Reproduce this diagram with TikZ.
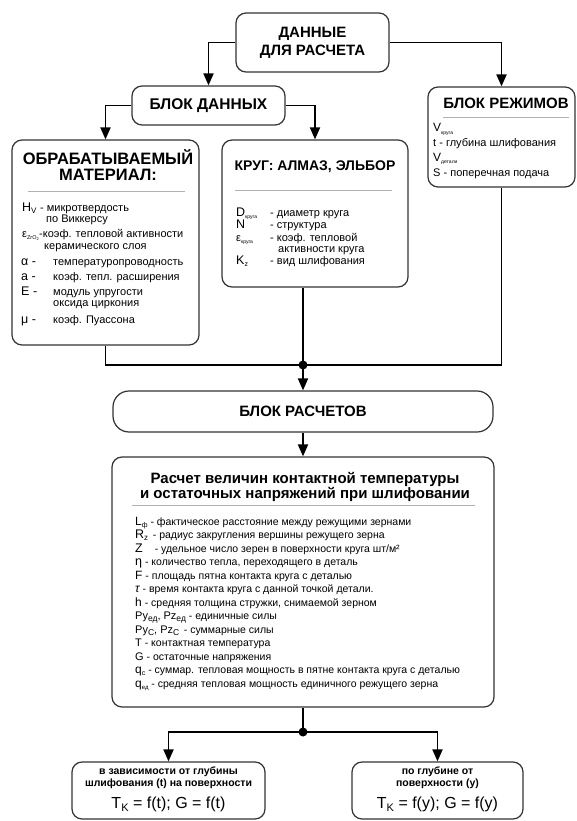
\documentclass[tikz,border=0pt]{standalone}
\usepackage{fontspec}
\setmainfont{Liberation Sans}
\usetikzlibrary{arrows.meta}
\newcommand\fsz[1]{\fontsize{#1}{#1}\selectfont}
\newcommand\sbs[2][6.5]{\raisebox{-0.35ex}{\fontsize{#1}{#1}\selectfont #2}}
\begin{document}
\begin{tikzpicture}[x=1pt,y=-1pt,
 box/.style={draw=black!80, line width=1.2pt, rounded corners=10pt, inner sep=0pt},
 conn/.style={line width=1.9pt, black},
 arr/.style={conn, -{Triangle[length=12pt,width=10pt]}},
 sepl/.style={draw=black!30, line width=1pt},
 jdot/.style={circle, fill=black, inner sep=0pt, minimum size=9pt},
 ttl/.style={font=\bfseries\fontsize{14.5}{18}\selectfont, align=center, inner sep=0pt},
 itm/.style={font=\fsz{11}, anchor=base west, inner sep=0pt},
 symb/.style={font=\fsz{12.5}, anchor=base west, inner sep=0pt},
 citm/.style={font=\fsz{10.5}, anchor=base west, inner sep=0pt},
 btx/.style={font=\bfseries\fontsize{10.5}{12}\selectfont, align=center, inner sep=0pt},
 fml/.style={font=\fsz{16}, inner sep=0pt}]
\useasboundingbox (0,0) rectangle (576,821);
\fill[white] (0,0) rectangle (576,821);

% ---------- boxes ----------
\node[box, minimum width=153, minimum height=59] (top) at (312.5,42.5) {};
\node[ttl, font=\bfseries\fontsize{15}{18}\selectfont] (topt) at (312.5,43) {ДАННЫЕ\\ДЛЯ РАСЧЕТА};

\node[box, minimum width=153, minimum height=39, font=\bfseries\fsz{15.5}] (dan) at (208.5,105.5) {БЛОК ДАННЫХ};

% material
\node[box, minimum width=187, minimum height=205] (mat) at (105.5,242.5) {};
\node[ttl, font=\bfseries\fontsize{16.5}{15.5}\selectfont] (matt) at (108,165) {ОБРАБАТЫВАЕМЫЙ\\МАТЕРИАЛ:};
\draw[sepl] (28,191) -- (185,191);
\node[symb] (m1s) at (22,211) {H\sbs[8]{V}};
\node[itm] (m1) at (40,211) {- микротвердость};
\node[itm] (m1b) at (46,222) {по Виккерсу};
\node[symb, font=\fsz{11}] (m2s) at (22,237) {ε\sbs[5.5]{ZrO\sbs[4]{2}}};
\node[itm] (m2) at (39,237) {-коэф. тепловой активности};
\node[itm] (m2b) at (44,249) {керамического слоя};
\node[symb] (m3s) at (21,265) {α -};
\node[itm] (m3) at (53,265) {температуропроводность};
\node[symb] (m4s) at (21,280) {а -};
\node[itm] (m4) at (53,280) {коэф. тепл. расширения};
\node[symb] (m5s) at (21,295) {Е -};
\node[itm] (m5) at (53,295) {модуль упругости};
\node[itm] (m5b) at (53,306) {оксида циркония};
\node[symb] (m6s) at (21,323) {μ -};
\node[itm] (m6) at (53,323) {коэф. Пуассона};

% krug
\node[box, minimum width=186, minimum height=147] (krug) at (315,213.5) {};
\node[ttl, font=\bfseries\fsz{14}] (krugt) at (315,167) {КРУГ: АЛМАЗ, ЭЛЬБОР};
\draw[sepl] (235,190) -- (392,190);
\node[symb] (k1s) at (236,216) {D\sbs[5]{круга}};
\node[itm] (k1) at (270,216) {- диаметр круга};
\node[symb] (k2s) at (236,228) {N};
\node[itm] (k2) at (270,228) {- структура};
\node[symb, font=\fsz{11}] (k3s) at (236,241) {ε\sbs[5]{круга}};
\node[itm] (k3) at (270,241) {- коэф. тепловой};
\node[itm] (k3b) at (278,252) {активности круга};
\node[symb] (k4s) at (236,264) {K\sbs[7]{z}};
\node[itm] (k4) at (270,264) {- вид шлифования};

% rezhimy
\node[box, minimum width=147, minimum height=100] (rez) at (501.5,137) {};
\node[ttl, font=\bfseries\fsz{15}] (rezt) at (506,103) {БЛОК РЕЖИМОВ};
\draw[sepl] (443,118) -- (569,118);
\node[symb, font=\fsz{12}] (r1) at (433,132) {V\sbs[5]{круга}};
\node[itm] (r2) at (433,147) {t - глубина шлифования};
\node[symb, font=\fsz{12}] (r3) at (433,161) {V\sbs[5]{детали}};
\node[itm] (r4) at (433,176) {S - поперечная подача};

% raschety
\node[box, rounded corners=16pt, minimum width=380, minimum height=41, font=\bfseries\fsz{15}] (ras) at (303,411.5) {БЛОК РАСЧЕТОВ};

% calc block
\node[box, minimum width=382, minimum height=250] (calc) at (303,582) {};
\node[ttl, font=\bfseries\fontsize{15}{15.5}\selectfont] (calct) at (305,487) {Расчет величин контактной температуры\\и остаточных напряжений при шлифовании};
\draw[sepl] (132,505) -- (475,505);
\node[citm] (c1) at (135,525) {{\fsz{12}L\sbs[7]{ф}} - фактическое расстояние между режущими зернами};
\node[citm] (c2) at (135,538.5) {{\fsz{12.5}R\sbs[8]{z}}\, - радиус закругления вершины режущего зерна};
\node[citm] (c3) at (135,552) {{\fsz{12.5}Z}\hspace{9pt} - удельное число зерен в поверхности круга шт/м²};
\node[citm] (c4) at (135,565.5) {{\fsz{12.5}η} - количество тепла, переходящего в деталь};
\node[citm] (c5) at (135,579) {{\fsz{12}F} - площадь пятна контакта круга с деталью};
\node[citm] (c6) at (135,592.5) {{\fsz{12}\itshape τ} - время контакта круга с данной точкой детали.};
\node[citm] (c7) at (135,606) {{\fsz{12}h} - средняя толщина стружки, снимаемой зерном};
\node[citm] (c8) at (135,619.5) {{\fsz{11}Py\sbs[8.5]{ед}, Pz\sbs[8.5]{ед}} - единичные силы};
\node[citm] (c9) at (135,633) {{\fsz{11}Py\sbs[8.5]{C}, Pz\sbs[8.5]{C}}\, - суммарные силы};
\node[citm] (c10) at (135,646.5) {{\fsz{11}T} - контактная температура};
\node[citm] (c11) at (135,660) {{\fsz{11}G} - остаточные напряжения};
\node[citm] (c12) at (135,673.5) {{\fsz{12}q\sbs[7]{c}} - суммар. тепловая мощность в пятне контакта круга с деталью};
\node[citm] (c13) at (135,687) {{\fsz{12}q\sbs[6]{ед}} - средняя тепловая мощность единичного режущего зерна};

% outputs
\node[box, minimum width=193, minimum height=57] (o1) at (168.5,790.5) {};
\node[btx] (o1t) at (168.5,778) {в зависимости от глубины\\шлифования (t) на поверхности};
\node[fml] (o1f) at (168.5,804) {T\sbs[11]{K} = f(t); G = f(t)};
\node[box, minimum width=171, minimum height=57] (o2) at (437.5,790.5) {};
\node[btx] (o2t) at (437.5,778) {по глубине от\\поверхности (y)};
\node[fml] (o2f) at (437.5,804) {T\sbs[11]{K} = f(y); G = f(y)};

% ---------- connectors ----------
\draw[arr] (top.west) -| (dan.north);
\draw[arr] (top.east) -| (rez.north);
\draw[arr] (dan.west) -| (mat.north);
\draw[arr] (dan.east) -| (krug.north);
\coordinate (j1) at (303,365);
\draw[conn] (mat.south) |- (j1);
\draw[conn] (rez.south) |- (j1);
\draw[conn] (krug.south -| j1) -- (j1);
\draw[arr] (j1) -- (ras.north);
\node[jdot] (d1) at (j1) {};
\draw[arr] (ras.south) -- (calc.north);
\coordinate (j2) at (303,732);
\draw[conn] (calc.south) -- (j2);
\draw[arr] (j2) -| (o1.north);
\draw[arr] (j2) -| (o2.north);
\node[jdot] (d2) at (j2) {};
\end{tikzpicture}
\end{document}
